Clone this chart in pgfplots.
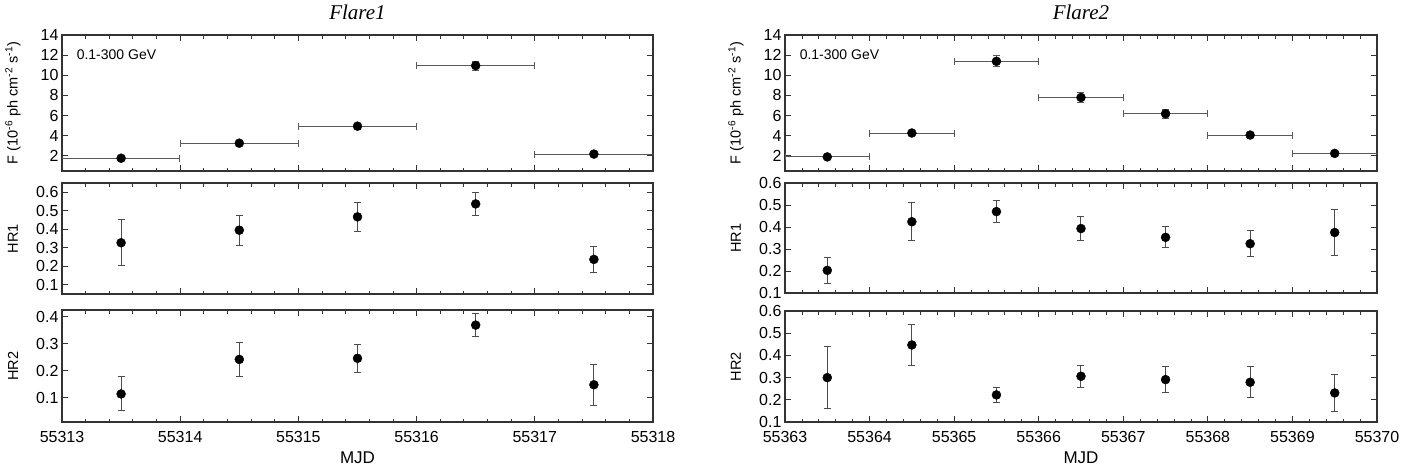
\documentclass[border=0pt]{standalone}
\usepackage{fontspec}
\setmainfont{Liberation Sans}
\newfontfamily\titlefont{Liberation Serif}
\usepackage{pgfplots}
\pgfplotsset{compat=1.18}
\usepackage{pgfplotstable}

\pgfplotstableread{
x y ex ey
55313.5 1.77 0.5 0.15
55314.5 3.26 0.5 0.15
55315.5 4.95 0.5 0.30
55316.5 10.96 0.5 0.45
55317.5 2.18 0.5 0.15
}\fluxA
\pgfplotstableread{
x y ey
55313.5 0.327 0.124
55314.5 0.395 0.081
55315.5 0.467 0.077
55316.5 0.537 0.062
55317.5 0.237 0.072
}\hrAone
\pgfplotstableread{
x y ey
55313.5 0.114 0.063
55314.5 0.242 0.062
55315.5 0.246 0.051
55316.5 0.369 0.044
55317.5 0.148 0.075
}\hrAtwo
\pgfplotstableread{
x y ex ey
55363.5 1.90 0.5 0.15
55364.5 4.27 0.5 0.20
55365.5 11.39 0.5 0.53
55366.5 7.80 0.5 0.50
55367.5 6.18 0.5 0.42
55368.5 4.07 0.5 0.28
55369.5 2.25 0.5 0.20
}\fluxB
\pgfplotstableread{
x y ey
55363.5 0.203 0.058
55364.5 0.424 0.086
55365.5 0.470 0.051
55366.5 0.393 0.053
55367.5 0.353 0.048
55368.5 0.324 0.060
55369.5 0.375 0.104
}\hrBone
\pgfplotstableread{
x y ey
55363.5 0.300 0.138
55364.5 0.447 0.092
55365.5 0.222 0.032
55366.5 0.306 0.049
55367.5 0.291 0.057
55368.5 0.279 0.069
55369.5 0.231 0.083
}\hrBtwo

\pgfplotsset{
  panel/.style={
    scale only axis,
    anchor=south west,
    axis line style={line width=1.1pt, black!80},
    tick style={black!80, line width=0.8pt},
    major tick length=6pt, minor tick length=3.5pt,
    tick align=inside, xtick pos=both, ytick pos=both,
    minor x tick num=4,
    scaled x ticks=false, scaled y ticks=false,
    /pgf/number format/1000 sep={},
    /pgf/number format/assume math mode=true,
    every tick label/.append style={font=\fontsize{16}{16}\selectfont},
    xticklabel style={yshift=-6pt},
    every axis y label/.style={at={(axis description cs:-0.083,0.5)}, rotate=90, anchor=center, font=\fontsize{14.5}{14.5}\selectfont},
    title style={at={(axis description cs:0.5,1)}, anchor=base, yshift=10pt, font=\titlefont\itshape\fontsize{21}{21}\selectfont},
  },
  hr/.style={
    yticklabel style={/pgf/number format/.cd, fixed, precision=1, fixed zerofill},
  },
  pts/.style={
    only marks, mark=*, mark size=4.5pt, black,
    error bars/.cd,
      y dir=both, y explicit,
      error bar style={line width=1pt, black!70},
      error mark options={rotate=90, mark size=3.5pt, line width=1pt, black!70},
  },
  ptsxy/.style={
    only marks, mark=*, mark size=4.5pt, black,
    error bars/.cd,
      x dir=both, x explicit,
      y dir=both, y explicit,
      error bar style={line width=1pt, black!65},
      error mark options={rotate=90, mark size=3.5pt, line width=1pt, black!65},
  },
}

\begin{document}
\begin{tikzpicture}
\path[use as bounding box] (0,0) rectangle (1403pt,475pt);

% ---------- Flare 1 ----------
\begin{axis}[panel, at={(62pt,304pt)}, width=591pt, height=136pt,
  xmin=55313, xmax=55318, ymin=0.5, ymax=14,
  xtick={55313,55314,55315,55316,55317,55318}, xticklabels={},
  ytick={2,4,6,8,10,12,14},
  title={Flare1},
  ylabel={F (10\textsuperscript{-6} ph cm\textsuperscript{-2} s\textsuperscript{-1})}]
\addplot[ptsxy] table[x=x, y=y, x error=ex, y error=ey] {\fluxA};
\node[anchor=west, font=\fontsize{14}{14}\selectfont] at (axis description cs:0.019,0.852) {0.1-300 GeV};
\end{axis}

\begin{axis}[panel, hr, at={(62pt,181pt)}, width=591pt, height=111pt,
  xmin=55313, xmax=55318, ymin=0.05, ymax=0.65,
  xtick={55313,55314,55315,55316,55317,55318}, xticklabels={},
  ytick={0.1,0.2,0.3,0.4,0.5,0.6},
  ylabel={HR1}]
\addplot[pts] table[x=x, y=y, y error=ey] {\hrAone};
\end{axis}

\begin{axis}[panel, hr, at={(62pt,53pt)}, width=591pt, height=112pt,
  xmin=55313, xmax=55318, ymin=0.01, ymax=0.425,
  xtick={55313,55314,55315,55316,55317,55318},
  ytick={0.1,0.2,0.3,0.4},
  ylabel={HR2},
  xlabel={MJD},
  xlabel style={at={(axis description cs:0.5,-0.321)}, anchor=center, font=\fontsize{17}{17}\selectfont}]
\addplot[pts] table[x=x, y=y, y error=ey] {\hrAtwo};
\end{axis}

% ---------- Flare 2 ----------
\begin{axis}[panel, at={(785pt,304pt)}, width=592pt, height=136pt,
  xmin=55363, xmax=55370, ymin=0.5, ymax=14,
  xtick={55363,55364,55365,55366,55367,55368,55369,55370}, xticklabels={},
  ytick={2,4,6,8,10,12,14},
  title={Flare2},
  ylabel={F (10\textsuperscript{-6} ph cm\textsuperscript{-2} s\textsuperscript{-1})}]
\addplot[ptsxy] table[x=x, y=y, x error=ex, y error=ey] {\fluxB};
\node[anchor=west, font=\fontsize{14}{14}\selectfont] at (axis description cs:0.019,0.852) {0.1-300 GeV};
\end{axis}

\begin{axis}[panel, hr, at={(785pt,182pt)}, width=592pt, height=110pt,
  xmin=55363, xmax=55370, ymin=0.1, ymax=0.6,
  xtick={55363,55364,55365,55366,55367,55368,55369,55370}, xticklabels={},
  ytick={0.1,0.2,0.3,0.4,0.5,0.6},
  ylabel={HR1}]
\addplot[pts] table[x=x, y=y, y error=ey] {\hrBone};
\end{axis}

\begin{axis}[panel, hr, at={(785pt,53pt)}, width=592pt, height=111pt,
  xmin=55363, xmax=55370, ymin=0.1, ymax=0.6,
  xtick={55363,55364,55365,55366,55367,55368,55369,55370},
  ytick={0.1,0.2,0.3,0.4,0.5,0.6},
  ylabel={HR2},
  xlabel={MJD},
  xlabel style={at={(axis description cs:0.5,-0.324)}, anchor=center, font=\fontsize{17}{17}\selectfont}]
\addplot[pts] table[x=x, y=y, y error=ey] {\hrBtwo};
\end{axis}
\end{tikzpicture}
\end{document}
